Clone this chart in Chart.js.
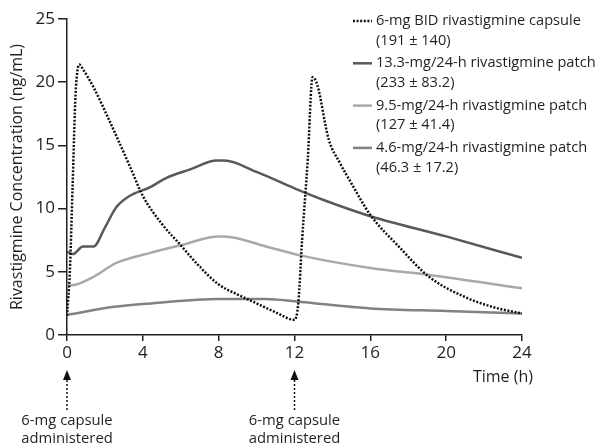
<!DOCTYPE html>
<html>
<head>
<meta charset="utf-8">
<script src="https://cdn.jsdelivr.net/npm/chart.js@4.4.1/dist/chart.umd.min.js"></script>
<style>
  html, body { margin: 0; padding: 0; background: #fff; }
  #wrap { width: 595px; height: 446px; }
</style>
</head>
<body>
<div id="wrap"><canvas id="pkChart" width="595" height="446"></canvas></div>
<script>
// values (time in h, concentration in ng/mL)
let capsuleHours = [0, 0.15, 0.3, 0.45, 0.65, 0.85, 1.4, 2.1, 3.3, 4.0, 5, 6, 7, 8, 9, 10, 11, 12, 12.2, 12.4, 12.7, 12.95, 13.2, 13.8, 14.4, 15, 16, 17.5, 19.1, 21, 22.5, 24];
let capsuleConc = [1.5, 5, 12, 19, 21.4, 21.0, 19.6, 17.4, 13.4, 11.0, 8.8, 7.1, 5.4, 4.0, 3.2, 2.5, 1.8, 1.2, 2.5, 7.5, 13.9, 20.4, 19.8, 15.5, 13.6, 12.0, 9.5, 7.0, 4.6, 3.0, 2.2, 1.7];

let patch13Hours = [0, 0.3, 0.85, 1.4, 2.0, 2.6, 3.3, 4.4, 5.2, 6.5, 7.9, 8.3, 10, 12, 13.5, 16, 20, 24];
let patch13Conc = [6.6, 6.4, 7.0, 7.0, 8.5, 10.1, 11.0, 11.7, 12.4, 13.1, 13.8, 13.8, 12.9, 11.6, 10.7, 9.4, 7.8, 6.1];

let patch95Hours = [0, 0.5, 1.4, 2.6, 4.4, 6, 8, 8.3, 10.5, 12.3, 16, 19.1, 24];
let patch95Conc = [3.9, 4.0, 4.6, 5.7, 6.5, 7.1, 7.8, 7.8, 7.0, 6.3, 5.3, 4.75, 3.7];

let patch46Hours = [0, 2.6, 4.4, 8, 10.5, 12.1, 16, 20, 24];
let patch46Conc = [1.6, 2.25, 2.5, 2.85, 2.85, 2.65, 2.1, 1.9, 1.7];

let seriesNames = ["6-mg BID rivastigmine capsule", "13.3-mg/24-h rivastigmine patch", "9.5-mg/24-h rivastigmine patch", "4.6-mg/24-h rivastigmine patch"];
let seriesAuc = ["(191 \u00b1 140)", "(233 \u00b1 83.2)", "(127 \u00b1 41.4)", "(46.3 \u00b1 17.2)"];

let xTicks = [0, 4, 8, 12, 16, 20, 24];
let yTicks = [0, 5, 10, 15, 20, 25];
let doseHours = [0, 12];
let doseText = ["6-mg capsule", "administered"];

let fontFamily = "'Open Sans', 'Noto Sans', sans-serif";
let textColor = "#231f20";

function toPoints(hours, conc) {
  let pts = [];
  for (let i = 0; i < hours.length; i++) {
    pts.push({ x: hours[i], y: conc[i] });
  }
  return pts;
}

function makeSet(i, hours, conc, color, dash) {
  return {
    label: seriesNames[i],
    data: toPoints(hours, conc),
    borderColor: color,
    borderWidth: 2.5,
    borderDash: dash,
    borderCapStyle: "butt",
    pointRadius: 0,
    cubicInterpolationMode: "monotone",
    fill: false
  };
}

let datasets = [
  makeSet(0, capsuleHours, capsuleConc, "#111111", [2, 1.6]),
  makeSet(1, patch13Hours, patch13Conc, "#58595b", []),
  makeSet(2, patch95Hours, patch95Conc, "#a7a9ac", []),
  makeSet(3, patch46Hours, patch46Conc, "#808285", [])
];

// legend, x title and dose arrows are drawn by hand
let extrasPlugin = {
  id: "extras",
  afterDraw(chart) {
    let ctx = chart.ctx;
    let xs = chart.scales.x;
    ctx.save();
    ctx.fillStyle = textColor;
    ctx.font = "14.6px " + fontFamily;
    ctx.textBaseline = "middle";
    ctx.textAlign = "left";

    let top = 21;
    for (let i = 0; i < datasets.length; i++) {
      let y = top + i * 42.3;
      ctx.beginPath();
      ctx.strokeStyle = datasets[i].borderColor;
      ctx.lineWidth = 2.5;
      ctx.setLineDash(datasets[i].borderDash);
      ctx.moveTo(353, y);
      ctx.lineTo(372, y);
      ctx.stroke();
      ctx.fillText(seriesNames[i], 376, y);
      ctx.fillText(seriesAuc[i], 376, y + 19.5);
    }

    ctx.setLineDash([]);
    ctx.font = "16px " + fontFamily;
    ctx.textAlign = "right";
    ctx.fillText("Time (h)", 533, 377);

    ctx.font = "14.8px " + fontFamily;
    ctx.textAlign = "center";
    for (let d = 0; d < doseHours.length; d++) {
      let px = xs.getPixelForValue(doseHours[d]);
      ctx.fillStyle = "#111";
      ctx.beginPath();
      ctx.moveTo(px, 370);
      ctx.lineTo(px - 4, 380);
      ctx.lineTo(px + 4, 380);
      ctx.closePath();
      ctx.fill();
      ctx.beginPath();
      ctx.strokeStyle = "#111";
      ctx.lineWidth = 1.5;
      ctx.setLineDash([2, 2]);
      ctx.moveTo(px, 380);
      ctx.lineTo(px, 411);
      ctx.stroke();
      ctx.setLineDash([]);
      ctx.fillStyle = textColor;
      ctx.fillText(doseText[0], px, 421);
      ctx.fillText(doseText[1], px, 439);
    }
    ctx.restore();
  }
};

new Chart(document.getElementById("pkChart"), {
  type: "line",
  data: { datasets: datasets },
  plugins: [extrasPlugin],
  options: {
    responsive: false,
    animation: false,
    layout: { padding: { top: 19, right: 73, left: 0, bottom: 0 } },
    plugins: { legend: { display: false }, tooltip: { enabled: false } },
    scales: {
      x: {
        type: "linear",
        min: 0,
        max: 24,
        afterFit(scale) { scale.height = 111; },
        afterBuildTicks(scale) { scale.ticks = xTicks.map(v => ({ value: v })); },
        border: { display: true, color: "#231f20", width: 1.5 },
        grid: { display: true, drawOnChartArea: false, drawTicks: true, tickLength: 6, color: "#231f20", lineWidth: 1.5 },
        ticks: { color: textColor, font: { family: fontFamily, size: 17 }, padding: 2, maxRotation: 0 }
      },
      y: {
        min: 0,
        max: 25,
        afterFit(scale) { scale.width = 67; },
        afterBuildTicks(scale) { scale.ticks = yTicks.map(v => ({ value: v })); },
        border: { display: true, color: "#231f20", width: 1.5 },
        grid: { display: true, drawOnChartArea: false, drawTicks: true, tickLength: 9, color: "#231f20", lineWidth: 1.5 },
        ticks: { color: textColor, font: { family: fontFamily, size: 17 }, padding: 3 },
        title: {
          display: true,
          text: "Rivastigmine Concentration (ng/mL)",
          color: textColor,
          font: { family: fontFamily, size: 16 },
          padding: { top: 8, bottom: 0 }
        }
      }
    }
  }
});
</script>
</body>
</html>
